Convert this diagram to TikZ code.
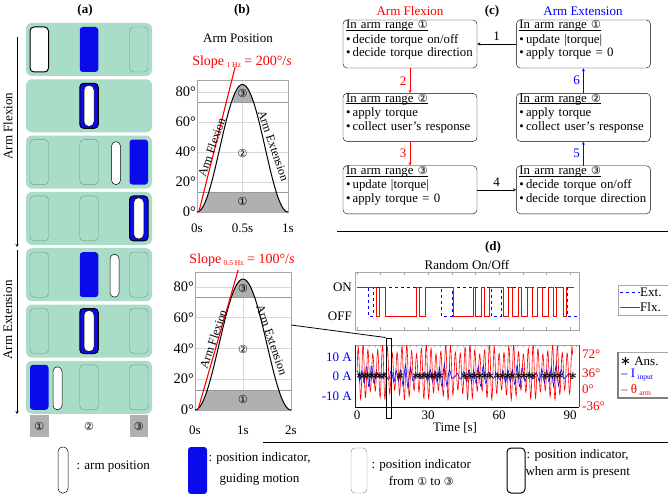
\documentclass[tikz,border=0pt]{standalone}
\usepackage{fontspec}
\setmainfont{Liberation Serif}
\newfontfamily\cnumfont{DejaVu Sans}
\usetikzlibrary{positioning}
\newcommand{\rng}[1]{{\cnumfont\fontsize{11}{11}\selectfont\char\numexpr"245F+#1\relax}}
\newcommand{\lowsub}[1]{\raisebox{-2pt}{\fontsize{7.5}{8}\selectfont #1}}
\newcommand{\rnghead}[1]{\underline{\smash{In arm range \rng{#1}}}\\[1pt]}
\newcommand{\ansmark}{{\cnumfont\char"2217}}
\definecolor{mint}{RGB}{170,221,200}
\definecolor{slotgreen}{RGB}{112,150,130}
\definecolor{guideblue}{RGB}{10,10,235}
\definecolor{bandgray}{RGB}{176,176,176}
\tikzset{
  panellbl/.style={font=\bfseries\fontsize{13}{15}\selectfont},
  rowbox/.style={fill=mint, rounded corners=6pt},
  slotline/.style={draw=slotgreen, line width=0.4pt, rounded corners=4pt},
  guide/.style={fill=guideblue, rounded corners=3pt},
  armpill/.style={fill=white, draw=black, line width=0.5pt, rounded corners=4.5pt},
  present/.style={draw=black, line width=1pt, rounded corners=4pt},
  rngbox/.style={fill=bandgray, minimum width=18.5pt, minimum height=22pt, inner sep=0pt},
  gridc/.style={gray!30, line width=0.4pt},
  bandline/.style={gray!80, line width=0.5pt},
  frame/.style={gray!70, line width=0.5pt},
  flowbox/.style={draw, rounded corners=4pt, text width=128pt, minimum height=48pt,
    align=left, inner sep=3pt, font=\fontsize{12.8}{13.5}\selectfont},
  ticklbl/.style={inner sep=1pt, font=\fontsize{13}{15}\selectfont},
  deglbl/.style={inner sep=1pt, font=\fontsize{14.5}{15}\selectfont},
  curvelbl/.style={font=\fontsize{12}{13}\selectfont, inner sep=1pt}
}

\begin{document}
\begin{tikzpicture}[x=1pt, y=-1pt, >=stealth, font=\fontsize{13}{15}\selectfont]
\useasboundingbox (0,0) rectangle (668,494);

% (a) arm range rows
\node[panellbl] (lbla) at (85,10) {(a)};
\foreach \r in {0,...,6}
  \fill[rowbox] (26,23+56.3*\r) rectangle ++(126,53);
\foreach \r/\s in {0/3,2/1,2/2,3/1,3/2,4/1,4/3,5/1,5/3,6/2,6/3}
  \draw[slotline] (30+49.75*\s-49.75,27+56.3*\r) rectangle ++(18.5,45);
\foreach \r/\s in {0/2,1/2,2/3,3/3,4/2,5/2,6/1}
  \fill[guide] (30+49.75*\s-49.75,27+56.3*\r) rectangle ++(18.5,45);
\draw[armpill, line width=1pt, rounded corners=4pt] (30,27) rectangle ++(18.5,45);
\foreach \r/\cx in {1/89,3/138.75,5/89}
  \draw[armpill] (\cx-5,29+56.3*\r) rectangle ++(10,41);
\foreach \r/\s in {1/2,3/3,5/2}
  \draw[present] (30+49.75*\s-49.75,27+56.3*\r) rectangle ++(18.5,45);
\foreach \r/\cx in {2/116,4/114.5,6/57.5}
  \draw[armpill] (\cx-4.5,29+56.3*\r) rectangle ++(9,43);

\coordinate (flxa) at (17,37);
\coordinate (flxb) at (17,247);
\draw[->] (flxa) -- (flxb);
\node[rotate=90] (flxlbl) at (8,126) {Arm Flexion};
\coordinate (exta) at (17,250);
\coordinate (extb) at (17,414);
\draw[->] (exta) -- (extb);
\node[rotate=90] (extlbl) at (8,320) {Arm Extension};

\node[rngbox] (ra1) at (39.25,426) {\rng1};
\node (ra2) at (89,426) {\rng2};
\node[rngbox] (ra3) at (138.75,426) {\rng3};

% (b) arm position, 1 Hz
\node[panellbl] (lblb) at (242,10) {(b)};
\node (postitle) at (238,38) {Arm Position};
\node[red, font=\fontsize{14}{15}\selectfont] (slope1) at (242,62) {Slope\,\lowsub{1 Hz} = 200°/\textit{s}};
\begin{scope}[shift={(197,212)}, x=91pt, y=1.5pt]
  \foreach \v in {20,40,60,80}
    \draw[gridc] (0,\v) -- (1,\v);
  \draw[gridc] (0.5,0) -- (0.5,88);
  \begin{scope}
    \clip plot[domain=0:1, samples=60] (\x,{42.5*(1-cos(360*\x))}) -- cycle;
    \fill[bandgray] (0,0) rectangle (1,13);
    \fill[bandgray] (0,73) rectangle (1,90);
  \end{scope}
  \draw[bandline] (0,13) -- (1,13);
  \draw[bandline] (0,73) -- (1,73);
  \draw[frame] (0,0) rectangle (1,88);
  \draw[line width=1pt] plot[domain=0:1, samples=60] (\x,{42.5*(1-cos(360*\x))});
  \draw[red, line width=1.1pt] (0.02,0) -- (0.42,97);
  \foreach \v in {0,20,40,60,80}
    \node[deglbl, anchor=east] at (0,\v) {\v°};
  \node[ticklbl] at (0,-11) {0s};
  \node[ticklbl] at (0.5,-11) {0.5s};
  \node[ticklbl] at (1,-11) {1s};
  \node (b1r3) at (0.5,79) {\rng3};
  \node (b1r2) at (0.5,39) {\rng2};
  \node (b1r1) at (0.5,7) {\rng1};
  \node[curvelbl, rotate=71] (b1flx) at (0.16,43) {Arm Flexion};
  \node[curvelbl, rotate=-71] (b1ext) at (0.84,44) {Arm Extension};
\end{scope}

% (b) arm position, 0.5 Hz
\node[red, font=\fontsize{14}{15}\selectfont] (slope2) at (242,260) {Slope\,\lowsub{0.5 Hz} = 100°/\textit{s}};
\begin{scope}[shift={(195,410)}, x=48pt, y=1.54pt]
  \foreach \v in {20,40,60,80}
    \draw[gridc] (0,\v) -- (2,\v);
  \draw[gridc] (1,0) -- (1,89.6);
  \begin{scope}
    \clip plot[domain=0:2, samples=60] (\x,{42.5*(1-cos(180*\x))}) -- cycle;
    \fill[bandgray] (0,0) rectangle (2,13);
    \fill[bandgray] (0,73) rectangle (2,90);
  \end{scope}
  \draw[bandline] (0,13) -- (2,13);
  \draw[bandline] (0,73) -- (2,73);
  \draw[frame] (0,0) rectangle (2,89.6);
  \draw[line width=1pt] plot[domain=0:2, samples=60] (\x,{42.5*(1-cos(180*\x))});
  \draw[red, line width=1.1pt] (0.06,0) -- (0.9,91);
  \foreach \v in {0,20,40,60,80}
    \node[deglbl, anchor=east] at (0,\v) {\v°};
  \node[ticklbl] at (0,-13) {0s};
  \node[ticklbl] at (1,-13) {1s};
  \node[ticklbl] at (2,-13) {2s};
  \node (b2r3) at (1,79) {\rng3};
  \node (b2r2) at (1,39) {\rng2};
  \node (b2r1) at (1,7) {\rng1};
  \node[curvelbl, rotate=71] (b2flx) at (0.38,46) {Arm Flexion};
  \node[curvelbl, rotate=-71] (b2ext) at (1.6,45.5) {Arm Extension};
\end{scope}

% (c) flow of the protocol
\node[panellbl] (lblc) at (492,11) {(c)};
\node[red] (flxhead) at (410,11) {Arm Flexion};
\node[blue] (exthead) at (583,11) {Arm Extension};
\node[flowbox] (flx1) at (410,44) {\rnghead1•\,decide torque on/off\\•\,decide torque direction};
\node[flowbox, below=25pt of flx1] (flx2) {\rnghead2•\,apply torque\\•\,collect user's response};
\node[flowbox, below=24pt of flx2] (flx3) {\rnghead3•\,update |torque|\\•\,apply torque = 0};
\node[flowbox, right=39pt of flx1] (ext1) {\rnghead1•\,update |torque|\\•\,apply torque = 0};
\node[flowbox, right=39pt of flx2] (ext2) {\rnghead2•\,apply torque\\•\,collect user's response};
\node[flowbox, right=39pt of flx3] (ext3) {\rnghead3•\,decide torque on/off\\•\,decide torque direction};
\draw[->] (ext1) -- node[above] {1} (flx1);
\draw[->, red] (flx1) -- node[left] {2} (flx2);
\draw[->, red] (flx2) -- node[left] {3} (flx3);
\draw[->] (flx3) -- node[above] {4} (ext3);
\draw[->, blue] (ext3) -- node[left] {5} (ext2);
\draw[->, blue] (ext2) -- node[left] {6} (ext1);

\coordinate (sepa) at (337,231);
\coordinate (sepb) at (668,231);
\draw[line width=1pt] (sepa) -- (sepb);

% (d) random on/off
\node[panellbl] (lbld) at (493,247) {(d)};
\node (rndtitle) at (467,265) {Random On/Off};
\draw[frame] (355,272) rectangle (579,330);
\foreach \k in {0,...,9} {
  \draw[frame] (357+23.7*\k,272) -- ++(0,3);
  \draw[frame] (357+23.7*\k,330) -- ++(0,-3);
}
\node[ticklbl, anchor=east] (onlbl) at (353,287) {ON};
\node[ticklbl, anchor=east] (offlbl) at (353,316) {OFF};
\draw[blue, dashed, line width=0.8pt] (357,287)
  \foreach \a/\b in {368/373,441/452,491/501} { -- (\a,287) -- (\a,316) -- (\b,316) -- (\b,287) }
  -- (567,287) -- (567,316) -- (577,316);
\draw[red, line width=0.6pt] (357,287)
  \foreach \a/\b in {376/379,385/416,419/425,453/473,475/481,484/489,503/508,512/518,521/527,532/537,542/548,553/556,563/566} { -- (\a,287) -- (\a,316) -- (\b,316) -- (\b,287) }
  -- (574,287);

\draw[frame] (355,345) -- (579,345);
\draw[black, line width=0.5pt] (355,407) -- (579,407);
\draw[blue, line width=0.5pt] (355,345) -- (355,407);
\draw[red, line width=0.5pt] (579,345) -- (579,407);
\foreach \k in {0,...,37}
  \draw[frame] (357+5.925*\k,345) -- ++(0,2);
\begin{scope}
  \clip (355,345) rectangle (579,407);
  \draw[red, line width=0.6pt] plot[domain=0:91, samples=700]
    ({357+2.37*\x},{372-(23+5*sin(40*\x))*sin(175.6*mod(\x,2.05))});
  \draw[blue!80!violet, line width=0.6pt] plot[domain=0:91, samples=260]
    ({357+2.37*\x},{376-(5+5*sin(23*\x))*sin(175.6*mod(\x,2.05)+90)-3*sin(130*\x)});
\end{scope}
\foreach \px [count=\i] in {360,364,368,372,376,380,384,400,416,420,424,428,432,436,440,465,470,475,480,485,490,498,503,508,512,519,524,529,533,545,550,555,560,573}
  \node[inner sep=0pt, font=\fontsize{11}{11}\selectfont] (ans\i) at (\px,376) {\ansmark};
\node[ticklbl, blue, anchor=east] (ia) at (353,357) {10 A};
\node[ticklbl, blue, anchor=east] (ib) at (353,376) {0 A};
\node[ticklbl, blue, anchor=east] (ic) at (353,396) {-10 A};
\node[ticklbl, red, anchor=west] (ta) at (581,354) {72°};
\node[ticklbl, red, anchor=west] (tb) at (581,373) {36°};
\node[ticklbl, red, anchor=west] (tc) at (581,389) {0°};
\node[ticklbl, red, anchor=west] (td) at (581,406) {-36°};
\node[ticklbl] (xa) at (357,415) {0};
\node[ticklbl] (xb) at (428,415) {30};
\node[ticklbl] (xc) at (499,415) {60};
\node[ticklbl] (xd) at (570,415) {90};
\node (timelbl) at (455,428) {Time [s]};

\node[draw, line width=1pt, minimum width=5pt, minimum height=80pt, inner sep=0pt] (zoombox) at (388.5,378) {};
\coordinate (zsrc) at (291,325);
\draw[line width=0.8pt] (zsrc) -- (zoombox.north west);

\draw[frame] (668,285) -- (618,285) -- (618,315) -- (668,315);
\draw[blue, dashed, line width=1pt] (620,292) -- (640,292);
\node[anchor=west, inner sep=0pt] (lgext) at (640,292) {Ext.};
\draw[red, line width=0.6pt] (620,307) -- (640,307);
\node[anchor=west, inner sep=0pt] (lgflx) at (640,307) {Flx.};
\draw[frame] (668,352) -- (618,352) -- (618,398) -- (668,398);
\draw[gray, line width=1.2pt] (618,352) -- (618,398) -- (668,398);
\node[anchor=west, inner sep=0pt] (lgans) at (620,361) {\ansmark\ Ans.};
\node[anchor=west, inner sep=0pt, blue] (lgcur) at (621,375) {– I\,\lowsub{input}};
\node[anchor=west, inner sep=0pt, red] (lgang) at (621,390) {– θ\,\lowsub{arm}};

% legend
\coordinate (sepc) at (263,442);
\coordinate (sepd) at (668,442);
\draw[line width=1pt] (sepc) -- (sepd);
\draw[armpill] (58,447) rectangle (68,493);
\node[anchor=west] (lgarm) at (73,467) {: arm position};
\fill[guide] (188,447) rectangle (207,494);
\node[anchor=west, align=center, font=\fontsize{13}{21}\selectfont] (lgguide) at (205,469) {: position indicator,\\guiding motion};
\draw[slotline, draw=gray] (351,448) rectangle (367,493);
\node[anchor=west, align=center, font=\fontsize{13}{17}\selectfont] (lgrange) at (368,473) {: position indicator\\from \rng1 to \rng3};
\draw[present] (507,448) rectangle (525,493);
\node[anchor=west, align=center, font=\fontsize{13}{17}\selectfont] (lgpres) at (522,463.5) {: position indicator,\\when arm is present};

\end{tikzpicture}
\end{document}
